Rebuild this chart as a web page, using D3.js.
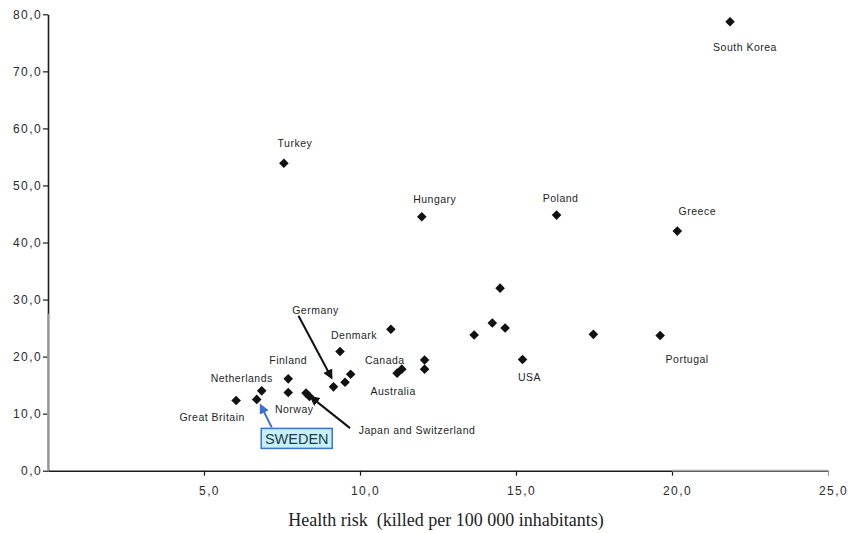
<!DOCTYPE html>
<html>
<head>
<meta charset="utf-8">
<script src="https://cdn.jsdelivr.net/npm/d3@7"></script>
<style>
  html, body { margin: 0; padding: 0; background: #fff; }
  svg { display: block; }
  .tick text { font-family: Arial, "Liberation Sans", sans-serif; }
</style>
</head>
<body>
<svg id="chart" width="848" height="533"></svg>
<script>
// Health risk (killed per 100 000 inhabitants) per country
const pointNames = [
  "South Korea", "Turkey", "Hungary", "Poland", "Greece",
  "", "", "", "", "", "Portugal", "USA",
  "", "Denmark", "", "", "Canada", "Australia",
  "", "", "Germany", "Finland", "Norway", "Japan", "Switzerland",
  "Netherlands", "Sweden", "Great Britain"
];
const healthRisk = [
  21.86, 7.56, 11.98, 16.30, 20.17,
  14.49, 14.24, 14.65, 13.66, 17.48, 19.62, 15.21,
  10.99, 9.36, 12.07, 12.07, 11.34, 11.19,
  9.70, 9.52, 9.15, 7.70, 7.70, 8.27, 8.38,
  6.85, 6.69, 6.03
];
const yValues = [
  78.7, 53.9, 44.5, 44.8, 42.0,
  32.0, 25.9, 25.0, 23.8, 23.9, 23.7, 19.5,
  24.8, 20.9, 19.4, 17.8, 17.8, 17.1,
  16.9, 15.5, 14.7, 16.1, 13.7, 13.6, 13.0,
  14.0, 12.5, 12.3
];
const xTicks = [5, 10, 15, 20, 25];
const yTicks = [0, 10, 20, 30, 40, 50, 60, 70, 80];
const xTitle = "Health risk\u00a0 (killed per 100 000 inhabitants)";

// Label placement relative to each labelled point (pixels)
const labelLayout = [
  { name: "South Korea", text: "South Korea", dx: 15, dy: 25 },
  { name: "Turkey", text: "Turkey", dx: 11, dy: -20 },
  { name: "Hungary", text: "Hungary", dx: 13, dy: -18 },
  { name: "Poland", text: "Poland", dx: 4, dy: -17 },
  { name: "Greece", text: "Greece", dx: 20, dy: -20 },
  { name: "Portugal", text: "Portugal", dx: 27, dy: 24 },
  { name: "USA", text: "USA", dx: 7, dy: 18 },
  { name: "Denmark", text: "Denmark", dx: 14, dy: -16 },
  { name: "Canada", text: "Canada", dx: -17, dy: -9 },
  { name: "Australia", text: "Australia", dx: -4, dy: 18 },
  { name: "Germany", text: "Germany", dx: -18, dy: -77,
    arrow: { x1: -35, y1: -71, x2: -2, y2: -9, color: "#111" } },
  { name: "Finland", text: "Finland", dx: 0, dy: -19 },
  { name: "Norway", text: "Norway", dx: 6, dy: 16 },
  { name: "Japan", text: "Japan and Switzerland", dx: 111, dy: 37,
    arrow: { x1: 44, y1: 35, x2: 5, y2: 4, color: "#111" } },
  { name: "Netherlands", text: "Netherlands", dx: -20, dy: -13 },
  { name: "Great Britain", text: "Great Britain", dx: -24, dy: 16 }
];
const highlight = { name: "Sweden", text: "SWEDEN", dx: 40, dy: 39,
  arrow: { x1: 15, y1: 28, x2: 4, y2: 6, color: "#3c6fd2" } };

const svg = d3.select("#chart");
svg.append("rect").attr("width", 848).attr("height", 533).attr("fill", "#fff");

const x = d3.scaleLinear().domain([0, 25]).range([48, 828]);
const y = d3.scaleLinear().domain([0, 80]).range([470.7, 14.3]);
const fmt = v => d3.format(".1f")(v).replace(".", ",");

// Axes
const yAxis = svg.append("g")
  .attr("transform", `translate(${x(0)},0)`)
  .call(d3.axisLeft(y).tickValues(yTicks).tickFormat(fmt).tickSize(5).tickSizeOuter(0).tickPadding(1));
const xAxis = svg.append("g")
  .attr("transform", `translate(0,${y(0)})`)
  .call(d3.axisBottom(x).tickValues(xTicks).tickFormat(fmt).tickSize(5).tickSizeOuter(0).tickPadding(11));

[yAxis, xAxis].forEach(g => {
  g.select(".domain").attr("stroke", "#1c1c1c").attr("stroke-width", 1.6);
  g.selectAll(".tick line").attr("stroke", "#1c1c1c").attr("stroke-width", 1.2);
  g.selectAll(".tick text")
    .attr("fill", "#2a2a2a")
    .attr("font-size", 12)
    .attr("letter-spacing", 1.4);
});
xAxis.selectAll(".tick text").attr("dx", 5);

// faded lower / right stretches of the axis lines
svg.append("line")
  .attr("x1", x(0)).attr("x2", x(0)).attr("y1", y(27.5)).attr("y2", y(0))
  .attr("stroke", "#a4a4a4").attr("stroke-width", 1.8);
svg.append("line")
  .attr("x1", x(20)).attr("x2", x(25)).attr("y1", y(0)).attr("y2", y(0))
  .attr("stroke", "#a4a4a4").attr("stroke-width", 1.8);
xAxis.selectAll(".tick").filter(d => d === 25).select("line").attr("stroke", "#999");

// Axis title
svg.append("text")
  .attr("x", 446).attr("y", 526)
  .attr("text-anchor", "middle")
  .attr("font-family", "'Liberation Serif', 'Times New Roman', serif")
  .attr("font-size", 18)
  .attr("fill", "#222")
  .text(xTitle);

// Points
const pts = healthRisk.map((v, i) => ({ name: pointNames[i], x: v, y: yValues[i] }));
svg.append("g").selectAll("path")
  .data(pts)
  .join("path")
  .attr("d", d3.symbol(d3.symbolSquare, 46))
  .attr("transform", d => `translate(${x(d.x)},${y(d.y)}) rotate(45)`)
  .attr("fill", "#111");

// Arrowhead markers
const defs = svg.append("defs");
function marker(id, color) {
  defs.append("marker")
    .attr("id", id).attr("viewBox", "0 0 10 10")
    .attr("refX", 8).attr("refY", 5)
    .attr("markerWidth", 5).attr("markerHeight", 5)
    .attr("orient", "auto-start-reverse")
    .append("path").attr("d", "M0,0 L10,5 L0,10 z").attr("fill", color);
}
marker("arrowDark", "#111");
marker("arrowBlue", "#3c6fd2");

const byName = n => pts.find(p => p.name === n);
const labels = svg.append("g")
  .attr("font-family", "Arial, 'Liberation Sans', sans-serif")
  .attr("font-size", 10.5)
  .attr("letter-spacing", 0.5)
  .attr("fill", "#1e1e1e");

labelLayout.forEach(l => {
  const p = byName(l.name);
  const px = x(p.x), py = y(p.y);
  if (l.arrow) {
    svg.append("line")
      .attr("x1", px + l.arrow.x1).attr("y1", py + l.arrow.y1)
      .attr("x2", px + l.arrow.x2).attr("y2", py + l.arrow.y2)
      .attr("stroke", l.arrow.color).attr("stroke-width", 2)
      .attr("marker-end", "url(#arrowDark)");
  }
  labels.append("text")
    .attr("x", px + l.dx).attr("y", py + l.dy)
    .attr("text-anchor", "middle")
    .attr("dominant-baseline", "central")
    .text(l.text);
});

// Highlighted country
{
  const p = byName(highlight.name);
  const px = x(p.x), py = y(p.y);
  svg.append("line")
    .attr("x1", px + highlight.arrow.x1).attr("y1", py + highlight.arrow.y1)
    .attr("x2", px + highlight.arrow.x2).attr("y2", py + highlight.arrow.y2)
    .attr("stroke", highlight.arrow.color).attr("stroke-width", 2)
    .attr("marker-end", "url(#arrowBlue)");
  const cx = px + highlight.dx, cy = py + highlight.dy;
  svg.append("rect")
    .attr("x", cx - 35.5).attr("y", cy - 10)
    .attr("width", 71).attr("height", 20)
    .attr("fill", "#c4f0f6")
    .attr("stroke", "#3c74d6").attr("stroke-width", 1.5);
  svg.append("text")
    .attr("x", cx).attr("y", cy + 1)
    .attr("text-anchor", "middle")
    .attr("dominant-baseline", "central")
    .attr("font-family", "Arial, 'Liberation Sans', sans-serif")
    .attr("font-size", 14.5)
    .attr("fill", "#1d3b4a")
    .text(highlight.text);
}
</script>
</body>
</html>
